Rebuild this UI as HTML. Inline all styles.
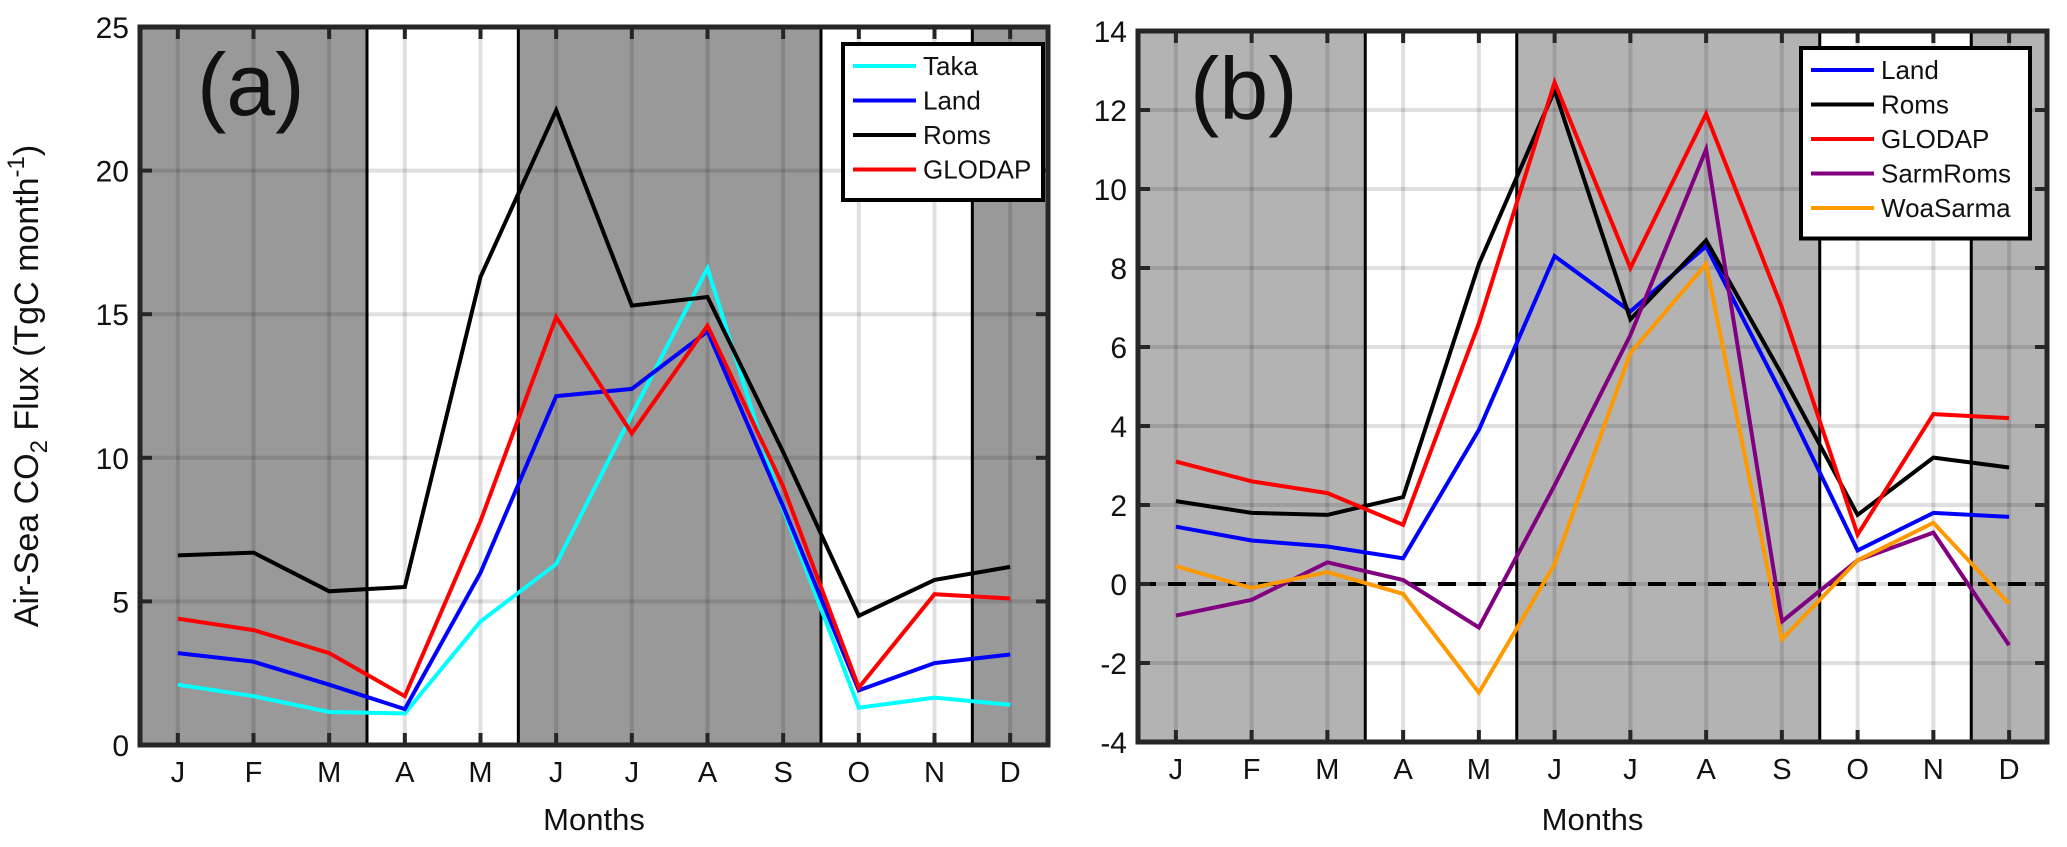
<!DOCTYPE html>
<html><head><meta charset="utf-8"><style>
html,body{margin:0;padding:0;background:#fff;}
svg{display:block;font-family:"Liberation Sans",Arial,sans-serif;}
</style></head><body>
<svg id="chart" width="2067" height="847" viewBox="0 0 2067 847" xmlns="http://www.w3.org/2000/svg"></svg>
<script>
const months = ["J","F","M","A","M","J","J","A","S","O","N","D"];
const yTicksA = [0,5,10,15,20,25];
const yTicksB = [-4,-2,0,2,4,6,8,10,12,14];
const takaA = [2.1,1.7,1.15,1.1,4.3,6.3,11.5,16.6,8.2,1.3,1.65,1.4];
const landA = [3.2,2.9,2.1,1.25,6.0,12.15,12.4,14.4,8.3,1.9,2.85,3.15];
const romsA = [6.6,6.7,5.35,5.5,16.3,22.1,15.3,15.6,10.2,4.5,5.75,6.2];
const glodapA = [4.4,4.0,3.2,1.7,7.8,14.9,10.85,14.6,9.0,2.0,5.25,5.1];
const landB = [1.45,1.1,0.95,0.65,3.9,8.3,6.9,8.55,4.8,0.85,1.8,1.7];
const romsB = [2.1,1.8,1.75,2.2,8.1,12.5,6.7,8.7,5.3,1.75,3.2,2.95];
const glodapB = [3.1,2.6,2.3,1.5,6.6,12.7,8.0,11.9,7.0,1.25,4.3,4.2];
const sarmRomsB = [-0.8,-0.4,0.55,0.1,-1.1,2.5,6.3,11.0,-0.95,0.6,1.3,-1.55];
const woaSarmaB = [0.45,-0.1,0.3,-0.25,-2.75,0.5,5.85,8.1,-1.4,0.6,1.55,-0.5];
const shadeSpans = [[0.5,3.5],[5.5,9.5],[11.5,12.5]];

const NS="http://www.w3.org/2000/svg";
const svg=document.getElementById('chart');
function el(tag,attrs,parent,text){const e=document.createElementNS(NS,tag);for(const k in attrs)e.setAttribute(k,attrs[k]);if(text!==undefined)e.textContent=text;(parent||svg).appendChild(e);return e;}

function panel(cfg){
  const g=el('g',{});
  
  
  const X=m=>cfg.x0+(m-0.5)/12*(cfg.x1-cfg.x0);
  const Y=v=>cfg.y1-(v-cfg.ymin)/(cfg.ymax-cfg.ymin)*(cfg.y1-cfg.y0);
  const bg=el('rect',{x:cfg.x0,y:cfg.y0,width:cfg.x1-cfg.x0,height:cfg.y1-cfg.y0,fill:'#fff'},g);
  
  
  shadeSpans.forEach(s=>{
    const r=el('rect',{x:X(s[0]),y:cfg.y0,width:X(s[1])-X(s[0]),height:cfg.y1-cfg.y0,fill:cfg.shade},g);
    
    
  });
  months.forEach((m,i)=>{
    const l=el('line',{x1:X(i+1),x2:X(i+1),y1:cfg.y0,y2:cfg.y1,stroke:'rgba(0,0,0,0.12)','stroke-width':4},g);
    
    
  });
  cfg.ticks.forEach(t=>{
    const l=el('line',{x1:cfg.x0,x2:cfg.x1,y1:Y(t),y2:Y(t),stroke:'rgba(0,0,0,0.12)','stroke-width':4},g);
    
    
  });
  [3.5,5.5,9.5,11.5].forEach(b=>{
    const l=el('line',{x1:X(b),x2:X(b),y1:cfg.y0,y2:cfg.y1,stroke:'#000','stroke-width':3},g);
    
    
  });
  if(cfg.zero){
    const z=el('line',{x1:cfg.x0,x2:cfg.x1,y1:Y(0),y2:Y(0),stroke:'#000','stroke-width':4,'stroke-dasharray':'18,12'},g);
    
    
  }
  cfg.series.forEach(s=>{
    const pts=s.data.map((v,i)=>X(i+1).toFixed(1)+','+Y(v).toFixed(1)).join(' ');
    const p=el('polyline',{points:pts,fill:'none',stroke:s.color,'stroke-width':4,'stroke-linejoin':'miter'},g);
    
    
  });
  months.forEach((m,i)=>{
    el('line',{x1:X(i+1),x2:X(i+1),y1:cfg.y1,y2:cfg.y1-12,stroke:'#262626','stroke-width':4},g);
    el('line',{x1:X(i+1),x2:X(i+1),y1:cfg.y0,y2:cfg.y0+12,stroke:'#262626','stroke-width':4},g);
    const t=el('text',{x:X(i+1),y:cfg.y1+37,'font-size':29,'text-anchor':'middle',fill:'#111'},g,m);
    
    
  });
  cfg.ticks.forEach(v=>{
    el('line',{x1:cfg.x0,x2:cfg.x0+12,y1:Y(v),y2:Y(v),stroke:'#262626','stroke-width':4},g);
    el('line',{x1:cfg.x1,x2:cfg.x1-12,y1:Y(v),y2:Y(v),stroke:'#262626','stroke-width':4},g);
    const t=el('text',{x:cfg.x0-11,y:Y(v)+11,'font-size':30,'text-anchor':'end',fill:'#111'},g,String(v));
    
    
  });
  const frame=el('rect',{x:cfg.x0,y:cfg.y0,width:cfg.x1-cfg.x0,height:cfg.y1-cfg.y0,fill:'none',stroke:'#262626','stroke-width':5},g);
  
  
  const pl=el('text',{x:cfg.lx,y:cfg.y0+88,'font-size':88,fill:'#111'},g,cfg.letter);
  
  
  const xt=el('text',{x:(cfg.x0+cfg.x1)/2,y:830,'font-size':31,'text-anchor':'middle',fill:'#111'},g,'Months');
  
  
  const L=cfg.legend;
  const lg=el('g',{},g);
  
  
  el('rect',{x:L.x,y:L.y,width:L.w,height:cfg.series.length*34.5+18,fill:'#fff',stroke:'#000','stroke-width':4},lg);
  cfg.series.forEach((s,i)=>{
    const cy=L.y+22+i*34.5;
    const e=el('g',{},lg);
    
    
    el('line',{x1:L.x+10,x2:L.x+73,y1:cy,y2:cy,stroke:s.color,'stroke-width':4},e);
    el('text',{x:L.x+80,y:cy+9,'font-size':26,fill:'#111'},e,s.label);
  });
}

panel({name:'panel-a',x0:140,x1:1048,y0:27,y1:745,ymin:0,ymax:25,ticks:yTicksA,shade:'#999999',letter:'(a)',lx:197,zero:false,
  legend:{x:843,y:44,w:200},
  series:[{label:'Taka',color:'#00ffff',data:takaA},{label:'Land',color:'#0000ff',data:landA},{label:'Roms',color:'#000000',data:romsA},{label:'GLODAP',color:'#ff0000',data:glodapA}]});
panel({name:'panel-b',x0:1138,x1:2047,y0:31,y1:742,ymin:-4,ymax:14,ticks:yTicksB,shade:'#b3b3b3',letter:'(b)',lx:1190,zero:true,
  legend:{x:1801,y:48,w:229},
  series:[{label:'Land',color:'#0000ff',data:landB},{label:'Roms',color:'#000000',data:romsB},{label:'GLODAP',color:'#ff0000',data:glodapB},{label:'SarmRoms',color:'#800080',data:sarmRomsB},{label:'WoaSarma',color:'#ff9900',data:woaSarmaB}]});

const yl=el('text',{transform:'translate(38,386) rotate(-90)','font-size':34,'text-anchor':'middle',fill:'#111'});


el('tspan',{},yl,'Air-Sea CO');
el('tspan',{'font-size':24,dy:9},yl,'2');
el('tspan',{dy:-9},yl,' Flux (TgC month');
el('tspan',{'font-size':24,dy:-14},yl,'-1');
el('tspan',{dy:14},yl,')');
</script>
</body></html>
